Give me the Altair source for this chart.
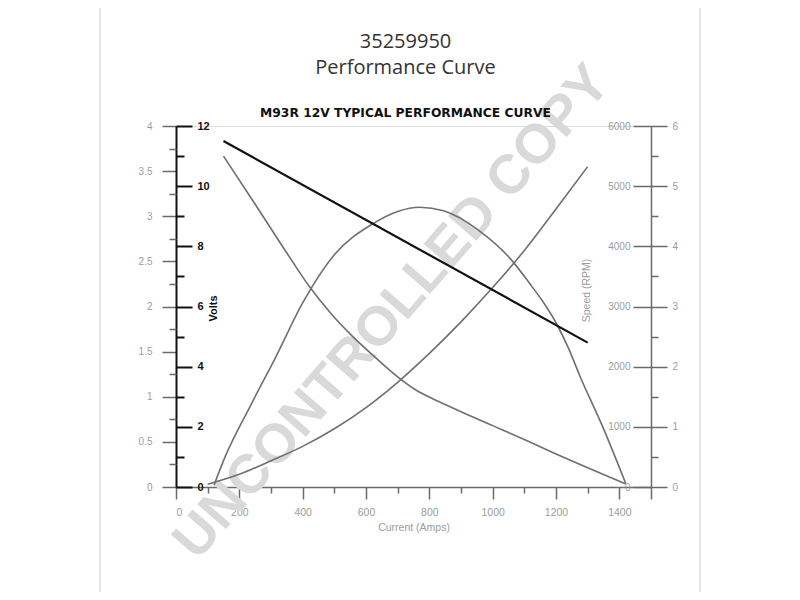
import altair as alt
import pandas as pd

# ---------------- data ----------------
torque_amps = [100, 200, 300, 400, 500, 600, 700, 800, 900, 1000, 1100, 1200, 1300]
torque_vals = [0.03, 0.14, 0.29, 0.45, 0.645, 0.88, 1.16, 1.48, 1.83, 2.21, 2.62, 3.08, 3.55]

speed_amps = [150, 250, 350, 420, 490, 560, 630, 700, 755, 830, 900, 1000, 1100, 1200, 1300, 1420]
speed_rpm = [5500, 4700, 3890, 3340, 2880, 2490, 2150, 1830, 1620, 1420, 1250, 1020, 790, 550, 320, 50]

power_amps = [120, 155, 235, 315, 400, 500, 620, 700, 770, 845, 960, 1055, 1120, 1160, 1200, 1240, 1275, 1350, 1420]
power_vals = [0.03, 0.50, 1.35, 2.16, 3.06, 3.86, 4.37, 4.58, 4.65, 4.59, 4.25, 3.80, 3.36, 3.07, 2.73, 2.30, 1.85, 0.97, 0.06]

volt_amps = [150, 1300]
volt_vals = [11.5, 4.8]

x_major = [0, 200, 400, 600, 800, 1000, 1200, 1400, 1500]
x_minor = [100, 300, 500, 700, 900, 1100, 1300]
left_major = [0, 0.5, 1, 1.5, 2, 2.5, 3, 3.5, 4]
left_minor = [0.25, 0.75, 1.25, 1.75, 2.25, 2.75, 3.25, 3.75]
volt_major = [0, 2, 4, 6, 8, 10, 12]
volt_minor = [1, 3, 5, 7, 9, 11]
rpm_major = [0, 1000, 2000, 3000, 4000, 5000, 6000]
right_major = [0, 1, 2, 3, 4, 5, 6]
right_minor = [0.5, 1.5, 2.5, 3.5, 4.5, 5.5]

TITLE_LINES = ["35259950", "Performance Curve"]
SUBTITLE = "M93R 12V TYPICAL PERFORMANCE CURVE"
WATERMARK = "UNCONTROLLED COPY"

torque_df = pd.DataFrame({"amps": torque_amps, "val": torque_vals})
speed_df = pd.DataFrame({"amps": speed_amps, "val": speed_rpm})
power_df = pd.DataFrame({"amps": power_amps, "val": power_vals})
volt_df = pd.DataFrame({"amps": volt_amps, "val": volt_vals})

W, H = 475, 361
GRAY = "#6f6f6f"
TICK = "#6a6a6a"
LABEL = "#9c9c9c"
FONT = "Liberation Sans"

xscale = alt.Scale(domain=[0, 1500], nice=False, zero=False)


def ysc(m):
    return alt.Scale(domain=[0, m], nice=False, zero=True)


xaxis_major = alt.Axis(orient="bottom", values=x_major, format="d",
                       labelExpr="datum.value == 1500 ? '' : datum.label",
                       tickSize=12, tickColor=TICK, tickWidth=1.5, domainColor=TICK, domainWidth=1.5,
                       labelColor=LABEL, labelFont=FONT, labelFontSize=10.5, labelPadding=8,
                       title="Current (Amps)", titleColor=LABEL, titleFont=FONT, titleFontSize=10.5,
                       titleFontWeight="normal", titlePadding=5, grid=False)
xaxis_minor = alt.Axis(orient="bottom", values=x_minor, labels=False, tickSize=6, tickColor=TICK,
                       tickWidth=1.5, domain=False, title=None, grid=False)

torque_axis = alt.Axis(orient="left", values=left_major, format="~g", tickSize=14, tickColor=TICK,
                       tickWidth=1.5, domainColor="#111", domainWidth=2, labelColor=LABEL,
                       labelFont=FONT, labelFontSize=10, labelPadding=10, title=None, grid=False)
torque_minor_axis = alt.Axis(orient="left", values=left_minor, labels=False, tickSize=7,
                             tickColor=TICK, tickWidth=1.5, domain=False, title=None, grid=False)

volt_axis = alt.Axis(orient="right", offset=-W, values=volt_major, tickSize=16, tickColor="#111",
                     tickWidth=2, domain=False, labelColor="#111", labelFont=FONT, labelFontSize=11,
                     labelFontWeight="bold", labelPadding=5, title="Volts", titleColor="#111",
                     titleFont=FONT, titleFontSize=11, titleFontWeight="bold", titleAngle=270,
                     titleX=37, titleY=182, titleBaseline="middle", titleAlign="center", grid=False)
volt_minor_axis = alt.Axis(orient="right", offset=-W, values=volt_minor, labels=False, tickSize=8,
                           tickColor="#111", tickWidth=2, domain=False, title=None, grid=False)

speed_axis = alt.Axis(orient="left", offset=-W, values=rpm_major, format="d", tickSize=18,
                      tickColor=TICK, tickWidth=1.5, domain=False, labelColor=LABEL, labelFont=FONT,
                      labelFontSize=10, labelPadding=3, title="Speed (RPM)", titleColor=LABEL,
                      titleFont=FONT, titleFontSize=10.5, titleFontWeight="normal", titleAngle=270,
                      titleX=-65, titleY=164, titleBaseline="middle", titleAlign="center", grid=False)

power_axis = alt.Axis(orient="right", offset=0, values=right_major, tickSize=16, tickColor=TICK,
                      tickWidth=1.5, domainColor=TICK, domainWidth=1.5, labelColor=LABEL,
                      labelFont=FONT, labelFontSize=10, labelPadding=5, title=None, grid=False)
power_minor_axis = alt.Axis(orient="right", offset=0, values=right_minor, labels=False, tickSize=7,
                            tickColor=TICK, tickWidth=1.5, domain=False, title=None, grid=False)

one = pd.DataFrame({"k": [0]})

# faint page frame (decoration, left and right sides)
frame_l = alt.Chart(one).mark_rule(color="#d0d0d0", strokeWidth=1).encode(
    x=alt.value(-76), y=alt.value(-118), y2=alt.value(466))
frame_r = alt.Chart(one).mark_rule(color="#d0d0d0", strokeWidth=1).encode(
    x=alt.value(524), y=alt.value(-118), y2=alt.value(466))

watermark = alt.Chart(pd.DataFrame({"t": [WATERMARK]})).mark_text(
    font=FONT, fontSize=55, fontWeight="bold", color="#d9d9d9", angle=311,
    align="center", baseline="middle").encode(
    x=alt.XDatum(682, scale=xscale, axis=None),
    y=alt.YDatum(1.94, scale=ysc(4), axis=None),
    text="t:N")

torque = alt.Chart(torque_df).mark_line(color=GRAY, strokeWidth=1.6, interpolate="monotone").encode(
    x=alt.X("amps:Q", scale=xscale, axis=xaxis_major),
    y=alt.Y("val:Q", scale=ysc(4), axis=torque_axis))
torque_minor = alt.Chart(torque_df).mark_line(opacity=0).encode(
    x=alt.X("amps:Q", scale=xscale, axis=xaxis_minor),
    y=alt.Y("val:Q", scale=ysc(4), axis=torque_minor_axis))

speed = alt.Chart(speed_df).mark_line(color=GRAY, strokeWidth=1.6, interpolate="monotone").encode(
    x=alt.X("amps:Q", scale=xscale, axis=None),
    y=alt.Y("val:Q", scale=ysc(6000), axis=speed_axis))

power = alt.Chart(power_df).mark_line(color=GRAY, strokeWidth=1.6, interpolate="monotone").encode(
    x=alt.X("amps:Q", scale=xscale, axis=None),
    y=alt.Y("val:Q", scale=ysc(6), axis=power_axis))
power_minor = alt.Chart(power_df).mark_line(opacity=0).encode(
    x=alt.X("amps:Q", scale=xscale, axis=None),
    y=alt.Y("val:Q", scale=ysc(6), axis=power_minor_axis))

volt = alt.Chart(volt_df).mark_line(color="#111", strokeWidth=2.2).encode(
    x=alt.X("amps:Q", scale=xscale, axis=None),
    y=alt.Y("val:Q", scale=ysc(12), axis=volt_axis))
volt_minor = alt.Chart(volt_df).mark_line(opacity=0).encode(
    x=alt.X("amps:Q", scale=xscale, axis=None),
    y=alt.Y("val:Q", scale=ysc(12), axis=volt_minor_axis))

chart = alt.layer(
    frame_l, frame_r, watermark, torque, torque_minor, speed, power, power_minor, volt, volt_minor
).resolve_scale(y="independent").resolve_axis(x="independent", y="independent").properties(
    width=W, height=H,
    padding={"left": 168, "top": 118, "right": 141, "bottom": 105},
    autosize=alt.AutoSizeParams(type="none"),
    title=alt.TitleParams(
        text=TITLE_LINES, subtitle=SUBTITLE, anchor="middle", frame="group", dx=-8, dy=118.5,
        offset=7, font="Open Sans", fontSize=20, fontWeight="normal", color="#333", lineHeight=25.5,
        subtitleFont="DejaVu Sans", subtitleFontSize=12.3, subtitleFontWeight="bold",
        subtitleColor="#111", subtitlePadding=29),
).configure_view(stroke=None).configure(background="white")

chart.save("out.html", embed_options={"renderer": "svg", "actions": False})
